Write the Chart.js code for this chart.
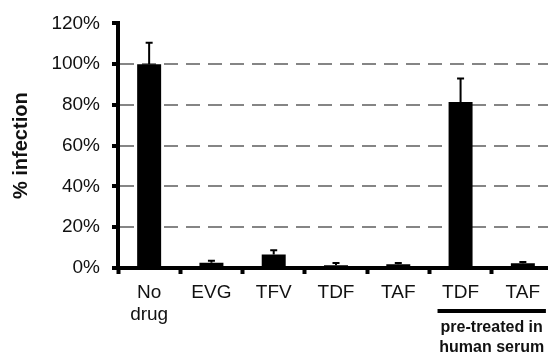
<!DOCTYPE html>
<html>
<head>
<meta charset="utf-8">
<script src="https://cdn.jsdelivr.net/npm/chart.js@4"></script>
<style>
	html, body { margin: 0; padding: 0; background: #fff; overflow: hidden; }
	#wrap { width: 548px; height: 359px; overflow: hidden; }
	#wrap canvas { display: block; }
</style>
</head>
<body>
<div id="wrap"><canvas id="chart" width="556" height="359"></canvas></div>
<script>
// values (percent infection, upper error only)
const CATEGORIES	= [ [ 'No', 'drug' ], 'EVG', 'TFV', 'TDF', 'TAF', 'TDF', 'TAF' ];
const INFECTION		= [ 100, 2.6, 6.6, 1.4, 1.8, 81.5, 2.3 ];
const ERROR_UP		= [ 10.5, 0.9, 2.1, 1.0, 0.6, 11.5, 0.6 ];
const Y_MAX			= 120;
const Y_STEP		= 20;
const GROUP_LABEL	= [ 'pre-treated in', 'human serum' ];
const GROUP_FROM	= 5;
const GROUP_TO		= 6;

const FONT	= '"Liberation Sans", Arial, Helvetica, sans-serif';
const INK	= '#111';

const errorBars = {
	id: 'errorBars',
	afterDatasetsDraw( chart ) {
		const ctx	= chart.ctx;
		const y		= chart.scales.y;
		const meta	= chart.getDatasetMeta( 0 );

		ctx.save();
		ctx.strokeStyle	= '#000';
		ctx.lineWidth	= 2;
		meta.data.forEach( ( bar, i ) => {
			let top	= y.getPixelForValue( INFECTION[ i ] + ERROR_UP[ i ] );
			ctx.beginPath();
			ctx.moveTo( bar.x, bar.y );
			ctx.lineTo( bar.x, top );
			ctx.moveTo( bar.x - 3.5, top );
			ctx.lineTo( bar.x + 3.5, top );
			ctx.stroke();
		} );
		ctx.restore();
	}
};

const groupNote = {
	id: 'groupNote',
	afterDraw( chart ) {
		const ctx	= chart.ctx;
		const x		= chart.scales.x;
		const half	= ( x.getPixelForValue( 1 ) - x.getPixelForValue( 0 ) ) / 2;
		let x1		= x.getPixelForValue( GROUP_FROM ) - half * 0.74;
		let x2		= x.getPixelForValue( GROUP_TO ) + half * 0.74;
		let base	= chart.chartArea.bottom;

		ctx.save();
		ctx.fillStyle	= '#000';
		ctx.fillRect( x1, base + 41, x2 - x1, 4 );

		ctx.fillStyle		= INK;
		ctx.font			= 'bold 16px ' + FONT;
		ctx.textAlign		= 'center';
		ctx.textBaseline	= 'middle';
		GROUP_LABEL.forEach( ( line, i ) => {
			ctx.fillText( line, ( x1 + x2 ) / 2, base + 60 + i * 20 );
		} );
		ctx.restore();
	}
};

new Chart( document.getElementById( 'chart' ), {
	type: 'bar',
	data: {
		labels: CATEGORIES,
		datasets: [ {
			data: INFECTION,
			backgroundColor: '#000',
			borderWidth: 0,
			barPercentage: 0.385,
			categoryPercentage: 1
		} ]
	},
	options: {
		responsive: false,
		animation: false,
		devicePixelRatio: 1,
		layout: { padding: { left: 0, top: 21, right: 2, bottom: 0 } },
		plugins: {
			legend: { display: false },
			tooltip: { enabled: false }
		},
		scales: {
			x: {
				afterFit: s => { s.height = 91; },
				border: { color: '#000', width: 4 },
				grid: {
					drawOnChartArea: false,
					tickLength: 6,
					tickWidth: 4,
					tickColor: '#000'
				},
				ticks: {
					color: INK,
					padding: 7,
					font: { family: FONT, size: 19 },
					maxRotation: 0,
					autoSkip: false
				}
			},
			y: {
				min: 0,
				max: Y_MAX,
				afterFit: s => { s.width = 118; },
				border: { color: '#000', width: 4, dash: [ 14, 8 ] },
				grid: {
					color: c => ( c.tick.value === 0 || c.tick.value === Y_MAX ) ? 'rgba(0,0,0,0)' : '#858585',
					lineWidth: 2,
					tickLength: 6,
					tickWidth: 4,
					tickColor: '#000',
					tickBorderDash: []
				},
				ticks: {
					stepSize: Y_STEP,
					color: INK,
					padding: 12,
					font: { family: FONT, size: 19 },
					callback: v => v + '%'
				},
				title: {
					display: true,
					text: '% infection',
					color: INK,
					padding: { top: 9, bottom: 0 },
					font: { family: FONT, size: 20, weight: 'bold' }
				}
			}
		}
	},
	plugins: [ errorBars, groupNote ]
} );
</script>
</body>
</html>
